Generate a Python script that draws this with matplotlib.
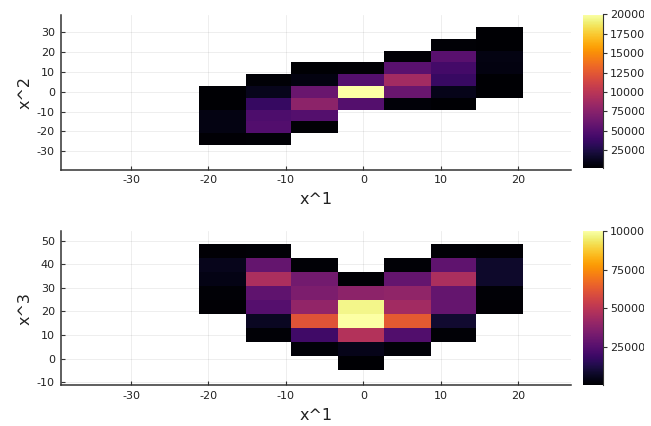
import numpy as np
import matplotlib
matplotlib.use("Agg")
import matplotlib.pyplot as plt
from matplotlib.transforms import Bbox, TransformedBbox

plt.rcParams['axes.unicode_minus'] = False

nan = np.nan

# bin edges
x_edges = [-21.2, -15.2, -9.3, -3.3, 2.7, 8.7, 14.6, 20.6]
y2_edges = [-26.7, -20.8, -14.9, -9.0, -3.1, 2.8, 8.8, 14.7, 20.6, 26.5, 32.4]
y3_edges = [-4.9, 1.0, 7.0, 12.9, 18.8, 24.8, 30.7, 36.6, 42.6, 48.5]

# counts, rows listed top -> bottom, columns left -> right
counts_x1x2 = [
    [nan, nan, nan, nan, nan, nan, 1400],
    [nan, nan, nan, nan, nan, 3000, 2000],
    [nan, nan, nan, nan, 2500, 52000, 8000],
    [nan, nan, 2000, 2500, 53000, 42000, 7000],
    [nan, 3000, 7000, 49500, 88000, 37000, 2000],
    [2000, 11000, 60000, 200000, 60000, 10000, 1500],
    [2000, 36000, 77000, 50000, 4000, 2000, nan],
    [8000, 47000, 50000, nan, nan, nan, nan],
    [8000, 49000, 3000, nan, nan, nan, nan],
    [2500, 3000, nan, nan, nan, nan, nan],
]
counts_x1x3 = [
    [1000, 1500, nan, nan, nan, 1500, 1000],
    [5500, 28500, 1500, nan, 1500, 27500, 8000],
    [4000, 46000, 32000, 1000, 28500, 46000, 8000],
    [1500, 27500, 34500, 38500, 39500, 28500, 1500],
    [1000, 25000, 40000, 97000, 44000, 29000, 1000],
    [nan, 6500, 61000, 100000, 63000, 9000, nan],
    [nan, 1500, 20000, 48000, 24000, 1500, nan],
    [nan, nan, 2000, 5000, 2000, nan, nan],
    [nan, nan, nan, 500, nan, nan, nan],
]

x_ticks = [-30, -20, -10, 0, 10, 20]
y2_ticks = [-30, -20, -10, 0, 10, 20, 30]
y3_ticks = [-10, 0, 10, 20, 30, 40, 50]
cb2_ticks = [25000, 50000, 75000, 100000, 125000, 150000, 175000, 200000]
cb3_ticks = [25000, 50000, 75000, 100000]

W, H = 651, 426
fig = plt.figure(figsize=(W / 100, H / 100), dpi=100)


def px(l, t, r, b):
    return [l / W, 1 - b / H, (r - l) / W, (b - t) / H]


ink = '#333333'
# colorbar labels run off the right edge in the original, cut at ~644 px
clip = TransformedBbox(Bbox([[0, 0], [644 / W, 1]]), fig.transFigure)


def panel(ax_rect, cb_rect, yedges, counts, yticks, ylim, cbticks, ylabel):
    ax = fig.add_axes(px(*ax_rect))
    cax = fig.add_axes(px(*cb_rect))
    z = np.ma.masked_invalid(np.flipud(np.array(counts, dtype=float)))
    mesh = ax.pcolormesh(x_edges, yedges, z, cmap='inferno',
                         vmax=max(cbticks), shading='flat')
    ax.set_xlim(-39.1, 26.8)
    ax.set_ylim(*ylim)
    ax.set_xticks(x_ticks)
    ax.set_yticks(yticks)
    ax.set_axisbelow(True)
    ax.grid(True, color='#000000', alpha=0.08, linewidth=0.6)
    for s in ['top', 'right']:
        ax.spines[s].set_visible(False)
    for s in ['left', 'bottom']:
        ax.spines[s].set_color(ink)
        ax.spines[s].set_linewidth(1.1)
    ax.tick_params(direction='in', length=3, width=0.8, color=ink,
                   labelsize=8, labelcolor='#222222', pad=4)
    ax.set_xlabel('x^1', fontsize=11.5, color='#222222', labelpad=5)
    ax.set_ylabel(ylabel, fontsize=11.5, color='#222222', labelpad=3)

    cb = fig.colorbar(mesh, cax=cax)
    cb.outline.set_visible(False)
    cax.spines['right'].set_visible(True)
    cax.spines['right'].set_color(ink)
    cax.spines['right'].set_linewidth(0.8)
    cb.set_ticks(cbticks, labels=[str(t) for t in cbticks])
    cax.tick_params(direction='out', length=3, width=0.8, color=ink,
                    labelsize=8, labelcolor='#222222', pad=2)
    for lab in cax.get_yticklabels():
        lab.set_clip_on(True)
        lab.set_clip_box(clip)
    return ax


panel((60.5, 15, 571, 169.5), (583, 14.5, 603, 168.5), y2_edges,
      counts_x1x2, y2_ticks, (-39.1, 38.5), cb2_ticks, 'x^2')
panel((60.5, 231.3, 571, 385.3), (583, 231, 603, 385), y3_edges,
      counts_x1x3, y3_ticks, (-11.3, 54.0), cb3_ticks, 'x^3')

fig.savefig('out.png', dpi=100)
